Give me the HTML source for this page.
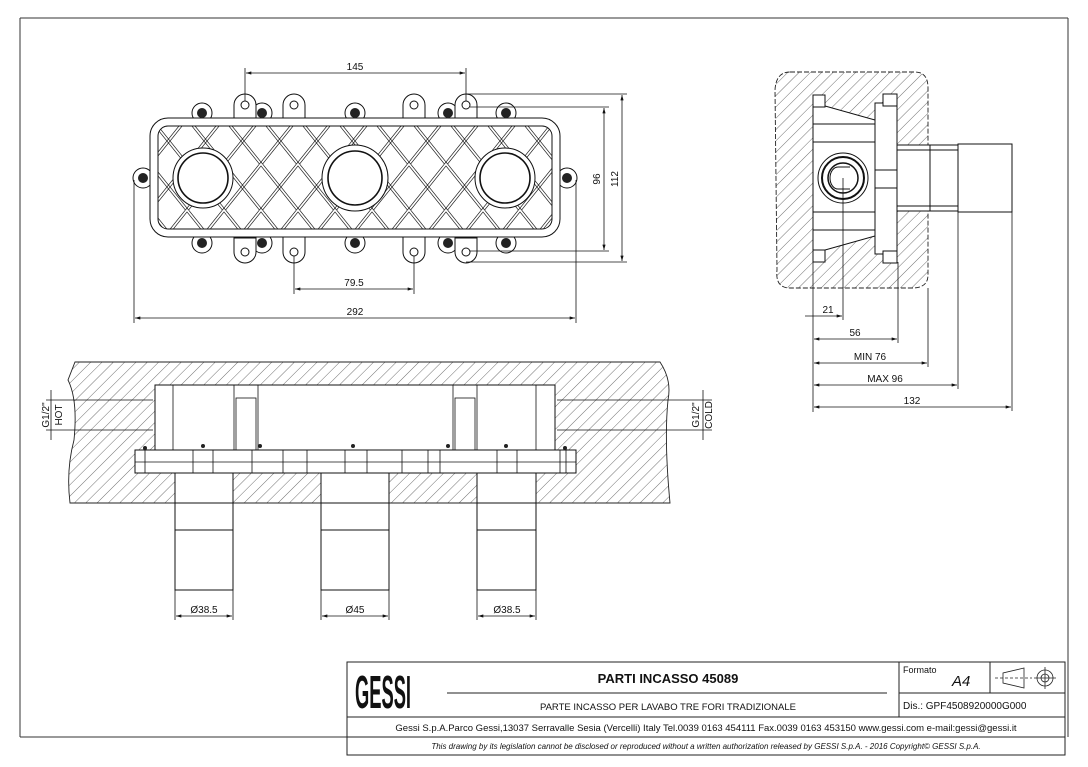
<!DOCTYPE html>
<html><head><meta charset="utf-8"><style>
html,body{margin:0;padding:0;background:#fff;}
svg{display:block;}
text{font-family:"Liberation Sans",sans-serif;fill:#111;}
</style></head><body>
<svg width="1088" height="767" viewBox="0 0 1088 767" xmlns="http://www.w3.org/2000/svg">
<defs>
<pattern id="h" width="8" height="8" patternUnits="userSpaceOnUse" patternTransform="rotate(45)">
<line x1="0" y1="0" x2="0" y2="8" stroke="#333" stroke-width="0.7"/>
</pattern>
<pattern id="g" x="150" y="118" width="37" height="46" patternUnits="userSpaceOnUse">
<g stroke="#222" stroke-width="0.7" fill="none">
<line x1="-1.6" y1="0" x2="35.4" y2="46"/><line x1="1.6" y1="0" x2="38.6" y2="46"/>
<line x1="35.4" y1="0" x2="-1.6" y2="46"/><line x1="38.6" y1="0" x2="1.6" y2="46"/>
<line x1="-38.6" y1="0" x2="-1.6" y2="46"/><line x1="72.4" y1="0" x2="35.4" y2="46"/>
<line x1="-35.4" y1="0" x2="1.6" y2="46"/><line x1="75.6" y1="0" x2="38.6" y2="46"/>
</g>
</pattern>
<marker id="a" viewBox="0 0 10 6" refX="10" refY="3" markerWidth="8" markerHeight="4" orient="auto-start-reverse"><path d="M0,0 L10,3 L0,6z" fill="#111"/></marker>
</defs>

<!-- frame -->
<g fill="none" stroke="#333" stroke-width="1">
<line x1="20" y1="18" x2="1068" y2="18"/>
<line x1="20" y1="18" x2="20" y2="737"/>
<line x1="1068" y1="18" x2="1068" y2="737"/>
<line x1="20" y1="737" x2="347" y2="737"/>
</g>

<!-- TOP VIEW -->
<g stroke="#111" fill="#fff" stroke-width="1">
<circle cx="143" cy="178" r="10"/><circle cx="567" cy="178" r="10"/>
<g>
<circle cx="202" cy="113" r="10"/><circle cx="262" cy="113" r="10"/><circle cx="355" cy="113" r="10"/><circle cx="448" cy="113" r="10"/><circle cx="506" cy="113" r="10"/>
<circle cx="202" cy="243" r="10"/><circle cx="262" cy="243" r="10"/><circle cx="355" cy="243" r="10"/><circle cx="448" cy="243" r="10"/><circle cx="506" cy="243" r="10"/>
</g>
<path d="M234,118 V105 a11,11 0 0 1 22,0 V118z"/><path d="M283,120 V105 a11,11 0 0 1 22,0 V120z"/>
<path d="M403,120 V105 a11,11 0 0 1 22,0 V120z"/><path d="M455,118 V105 a11,11 0 0 1 22,0 V118z"/>
<path d="M234,238 V252 a11,11 0 0 0 22,0 V238z"/><path d="M283,236 V252 a11,11 0 0 0 22,0 V236z"/>
<path d="M403,236 V252 a11,11 0 0 0 22,0 V236z"/><path d="M455,238 V252 a11,11 0 0 0 22,0 V238z"/>
<rect x="150" y="118" width="410" height="119" rx="18"/>
</g>
<rect x="158" y="126" width="394" height="103" rx="10" fill="url(#g)" stroke="#111"/>
<g stroke="#111" fill="#fff">
<circle cx="203" cy="178" r="30" stroke-width="1"/><circle cx="203" cy="178" r="25" stroke-width="1.6"/>
<circle cx="355" cy="178" r="33" stroke-width="1"/><circle cx="355" cy="178" r="27" stroke-width="1.6"/>
<circle cx="505" cy="178" r="30" stroke-width="1"/><circle cx="505" cy="178" r="25" stroke-width="1.6"/>
</g>
<g fill="#222">
<circle cx="143" cy="178" r="5"/><circle cx="567" cy="178" r="5"/>
<circle cx="202" cy="113" r="5"/><circle cx="262" cy="113" r="5"/><circle cx="355" cy="113" r="5"/><circle cx="448" cy="113" r="5"/><circle cx="506" cy="113" r="5"/>
<circle cx="202" cy="243" r="5"/><circle cx="262" cy="243" r="5"/><circle cx="355" cy="243" r="5"/><circle cx="448" cy="243" r="5"/><circle cx="506" cy="243" r="5"/>
</g>
<g fill="#fff" stroke="#111">
<circle cx="245" cy="105" r="4"/><circle cx="294" cy="105" r="4"/><circle cx="414" cy="105" r="4"/><circle cx="466" cy="105" r="4"/>
<circle cx="245" cy="252" r="4"/><circle cx="294" cy="252" r="4"/><circle cx="414" cy="252" r="4"/><circle cx="466" cy="252" r="4"/>
</g>
<g stroke="#111" stroke-width="0.8" fill="none">
<line x1="245" y1="68" x2="245" y2="101"/><line x1="466" y1="68" x2="466" y2="101"/>
<line x1="246" y1="73" x2="465" y2="73" marker-start="url(#a)" marker-end="url(#a)"/>
<line x1="294" y1="256" x2="294" y2="294"/><line x1="414" y1="256" x2="414" y2="294"/>
<line x1="295" y1="289" x2="413" y2="289" marker-start="url(#a)" marker-end="url(#a)"/>
<line x1="134" y1="180" x2="134" y2="323"/><line x1="576" y1="180" x2="576" y2="323"/>
<line x1="135" y1="318" x2="575" y2="318" marker-start="url(#a)" marker-end="url(#a)"/>
<line x1="470" y1="107" x2="609" y2="107"/><line x1="470" y1="251" x2="609" y2="251"/>
<line x1="604" y1="108" x2="604" y2="250" marker-start="url(#a)" marker-end="url(#a)"/>
<line x1="466" y1="94" x2="627" y2="94"/><line x1="466" y1="262" x2="627" y2="262"/>
<line x1="622" y1="95" x2="622" y2="261" marker-start="url(#a)" marker-end="url(#a)"/>
</g>
<g font-size="10" text-anchor="middle">
<text x="355" y="70">145</text><text x="354" y="286">79.5</text><text x="355" y="315">292</text>
<text transform="translate(600,179) rotate(-90)">96</text><text transform="translate(618,179) rotate(-90)">112</text>
</g>

<!-- SIDE VIEW -->
<path d="M790,72 H915 Q928,72 928,88 V145 H897 V210 H928 V275 Q928,288 912,288 H790 Q775,288 777,270 L775,90 Q776,72 790,72z" fill="url(#h)" stroke="#222" stroke-width="0.9" stroke-dasharray="5,2"/>
<g stroke="#111" stroke-width="1" fill="#fff">
<path d="M813,95 H825 V106 L875,120 V236 L825,250 V262 H813z"/>
<rect x="875" y="103" width="22" height="151"/>
<rect x="883" y="94" width="14" height="12"/><rect x="883" y="251" width="14" height="12"/>
<rect x="813" y="95" width="12" height="12"/><rect x="813" y="250" width="12" height="12"/>
<rect x="897" y="145" width="33" height="66"/><rect x="930" y="145" width="28" height="66"/><rect x="958" y="144" width="54" height="68"/>
<line x1="897" y1="150" x2="958" y2="150"/><line x1="897" y1="206" x2="958" y2="206"/>
<line x1="813" y1="124" x2="875" y2="124"/><line x1="813" y1="142" x2="875" y2="142"/><line x1="813" y1="212" x2="875" y2="212"/><line x1="813" y1="230" x2="875" y2="230"/>
<line x1="875" y1="170" x2="897" y2="170"/><line x1="875" y1="188" x2="897" y2="188"/>
<circle cx="843" cy="178" r="25"/><circle cx="843" cy="178" r="21" stroke-width="2"/><circle cx="843" cy="178" r="15" stroke-width="1.5"/>
<path d="M838,167 a8,11 0 0 0 0,22" fill="none"/><line x1="838" y1="167" x2="850" y2="167"/><line x1="838" y1="189" x2="850" y2="189"/>
</g>
<g stroke="#111" stroke-width="0.8" fill="none">
<line x1="813" y1="262" x2="813" y2="412"/><line x1="843" y1="178" x2="843" y2="320"/>
<line x1="898" y1="262" x2="898" y2="343"/><line x1="928" y1="288" x2="928" y2="367"/>
<line x1="958" y1="212" x2="958" y2="389"/><line x1="1012" y1="212" x2="1012" y2="411"/>
<line x1="805" y1="316" x2="842" y2="316" marker-end="url(#a)"/>
<line x1="814" y1="339" x2="897" y2="339" marker-start="url(#a)" marker-end="url(#a)"/>
<line x1="814" y1="363" x2="927" y2="363" marker-start="url(#a)" marker-end="url(#a)"/>
<line x1="814" y1="385" x2="957" y2="385" marker-start="url(#a)" marker-end="url(#a)"/>
<line x1="814" y1="407" x2="1011" y2="407" marker-start="url(#a)" marker-end="url(#a)"/>
</g>
<g font-size="10" text-anchor="middle">
<text x="828" y="313">21</text><text x="855" y="336">56</text><text x="870" y="360">MIN 76</text><text x="885" y="382">MAX 96</text><text x="912" y="404">132</text>
</g>

<!-- SECTION VIEW -->
<path d="M75,362 H660 Q672,380 668,400 Q664,440 670,503 H70 Q66,470 74,440 Q78,400 68,380z" fill="url(#h)" stroke="#222" stroke-width="0.9"/>
<g stroke="#111" stroke-width="1" fill="#fff">
<rect x="155" y="385" width="400" height="65"/>
<rect x="135" y="450" width="441" height="23"/>
<rect x="175" y="473" width="58" height="30"/><rect x="321" y="473" width="68" height="30"/><rect x="477" y="473" width="59" height="30"/>
<path d="M175,503 H233 V530 H175z M175,530 H233 V590 H175z"/>
<path d="M321,503 H389 V530 H321z M321,530 H389 V590 H321z"/>
<path d="M477,503 H536 V530 H477z M477,530 H536 V590 H477z"/>
</g>
<g stroke="#111" stroke-width="0.8" fill="none">
<line x1="173" y1="385" x2="173" y2="450"/><line x1="234" y1="385" x2="234" y2="450"/><line x1="258" y1="385" x2="258" y2="450"/>
<rect x="236" y="398" width="20" height="52"/>
<line x1="453" y1="385" x2="453" y2="450"/><line x1="477" y1="385" x2="477" y2="450"/><line x1="536" y1="385" x2="536" y2="450"/>
<rect x="455" y="398" width="20" height="52"/>
<line x1="135" y1="462" x2="576" y2="462"/>
<line x1="145" y1="450" x2="145" y2="473"/><line x1="193" y1="450" x2="193" y2="473"/><line x1="213" y1="450" x2="213" y2="473"/>
<line x1="252" y1="450" x2="252" y2="473"/><line x1="283" y1="450" x2="283" y2="473"/><line x1="307" y1="450" x2="307" y2="473"/>
<line x1="345" y1="450" x2="345" y2="473"/><line x1="367" y1="450" x2="367" y2="473"/><line x1="402" y1="450" x2="402" y2="473"/><line x1="428" y1="450" x2="428" y2="473"/>
<line x1="440" y1="450" x2="440" y2="473"/><line x1="497" y1="450" x2="497" y2="473"/><line x1="517" y1="450" x2="517" y2="473"/><line x1="560" y1="450" x2="560" y2="473"/><line x1="566" y1="450" x2="566" y2="473"/>
<line x1="46" y1="400" x2="153" y2="400"/><line x1="46" y1="430" x2="153" y2="430"/>
<line x1="557" y1="400" x2="712" y2="400"/><line x1="557" y1="430" x2="712" y2="430"/>
<line x1="51" y1="390" x2="51" y2="440"/><line x1="703" y1="390" x2="703" y2="440"/>
<line x1="175" y1="590" x2="175" y2="620"/><line x1="233" y1="590" x2="233" y2="620"/>
<line x1="321" y1="590" x2="321" y2="620"/><line x1="389" y1="590" x2="389" y2="620"/>
<line x1="477" y1="590" x2="477" y2="620"/><line x1="536" y1="590" x2="536" y2="620"/>
<line x1="176" y1="616" x2="232" y2="616" marker-start="url(#a)" marker-end="url(#a)"/>
<line x1="322" y1="616" x2="388" y2="616" marker-start="url(#a)" marker-end="url(#a)"/>
<line x1="478" y1="616" x2="535" y2="616" marker-start="url(#a)" marker-end="url(#a)"/>
</g>
<g fill="#222"><circle cx="145" cy="448" r="2"/><circle cx="203" cy="446" r="2"/><circle cx="260" cy="446" r="2"/><circle cx="353" cy="446" r="2"/><circle cx="448" cy="446" r="2"/><circle cx="506" cy="446" r="2"/><circle cx="565" cy="448" r="2"/></g>
<g font-size="10" text-anchor="middle">
<text transform="translate(49,415) rotate(-90)">G1/2"</text><text transform="translate(62,415) rotate(-90)">HOT</text>
<text transform="translate(699,415) rotate(-90)">G1/2"</text><text transform="translate(712,415) rotate(-90)">COLD</text>
<text x="204" y="613">Ø38.5</text><text x="355" y="613">Ø45</text><text x="507" y="613">Ø38.5</text>
</g>

<!-- TITLE BLOCK -->
<g stroke="#222" stroke-width="1" fill="none">
<rect x="347" y="662" width="718" height="93"/>
<line x1="347" y1="717" x2="1065" y2="717"/>
<line x1="347" y1="737" x2="1065" y2="737"/>
<line x1="899" y1="662" x2="899" y2="717"/>
<line x1="990" y1="662" x2="990" y2="693"/>
<line x1="899" y1="693" x2="1065" y2="693"/>
<line x1="447" y1="693" x2="887" y2="693"/>
</g>
<text x="355" y="708" font-size="46" font-weight="bold" textLength="56" lengthAdjust="spacingAndGlyphs">GESSI</text>
<text x="668" y="683" font-size="13" font-weight="bold" text-anchor="middle">PARTI INCASSO 45089</text>
<text x="668" y="710" font-size="9.5" text-anchor="middle">PARTE INCASSO PER LAVABO TRE FORI TRADIZIONALE</text>
<text x="903" y="673" font-size="9">Formato</text>
<text x="952" y="686" font-size="15" font-style="italic">A4</text>
<g stroke="#222" stroke-width="0.8" fill="none">
<path d="M1003,683 L1003,673 L1024,668 L1024,688 L1003,683z"/><line x1="995" y1="678" x2="1032" y2="678" stroke-dasharray="3,2"/>
<circle cx="1045" cy="678" r="8"/><circle cx="1045" cy="678" r="4"/><line x1="1034" y1="678" x2="1056" y2="678"/><line x1="1045" y1="667" x2="1045" y2="689"/>
</g>
<text x="903" y="709" font-size="10">Dis.: GPF4508920000G000</text>
<text x="706" y="731" font-size="9.5" text-anchor="middle">Gessi S.p.A.Parco Gessi,13037 Serravalle Sesia (Vercelli) Italy Tel.0039 0163 454111 Fax.0039 0163 453150 www.gessi.com e-mail:gessi@gessi.it</text>
<text x="706" y="749" font-size="8" font-style="italic" text-anchor="middle">This drawing by its legislation cannot be disclosed or reproduced without a written authorization released by GESSI S.p.A. - 2016 Copyright© GESSI S.p.A.</text>
</svg>
</body></html>
